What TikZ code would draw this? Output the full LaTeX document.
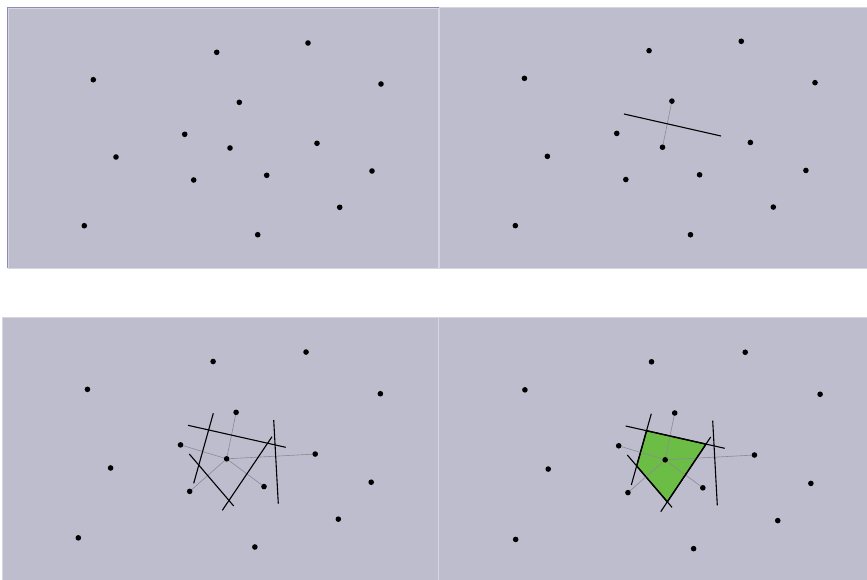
\documentclass[tikz,border=0pt]{standalone}
\usetikzlibrary{calc}

\definecolor{panelbg}{RGB}{190,189,206}
\definecolor{panelrim}{RGB}{214,214,226}
\definecolor{paneltop}{RGB}{140,140,184}
\definecolor{cellgreen}{RGB}{108,189,69}
\definecolor{raygray}{RGB}{138,138,152}

\tikzset{
  panel/.style={fill=panelbg, draw=panelrim, line width=1pt},
  site/.style={circle, fill=black, inner sep=0pt, minimum size=5.6pt},
  ray/.style={draw=raygray, line width=0.6pt},
  bisect/.style={draw=black, line width=1.1pt},
  cell/.style={fill=cellgreen, draw=black, line width=1.4pt, line join=miter},
}

% the fifteen sites, #1 = name prefix
\newcommand{\placesites}[1]{%
  \foreach \n/\px/\py in {1/93.3/79.7, 2/216.7/52.3, 3/308/43, 4/381/84,
      5/239.3/102.3, 6/184.7/134.3, 7/230/148, 8/317/143.3, 9/116/157,
      10/193.7/180, 11/266.7/175.3, 12/372/171, 13/339.7/207.3,
      14/84.3/225.7, 15/257.7/234.7}
    \node[site] (#1\n) at (\px,\py) {};
}

\begin{document}
\begin{tikzpicture}[x=1pt, y=-1pt]

\useasboundingbox (0,0) rectangle (867,579);

% Sites only
\draw[panel] (8.3,8.3) rectangle (438,268);
\draw[paneltop, line width=1pt] (7.5,268) -- (7.5,7.5) -- (438.5,7.5);
\begin{scope}
  \placesites{a}
\end{scope}

% One bisector
\draw[panel] (439.3,7) rectangle (868,268);
\begin{scope}[shift={(430.2,-2.1)}, xscale=1.01, yscale=1.009]
  \placesites{b}
\end{scope}

\draw[ray] (b7) -- (b5);
\draw[bisect] (624,114) -- (721,136);

% All bisectors around the centre site
\draw[panel] (2.7,317.3) rectangle (438,580);
\begin{scope}[shift={(-7.5,308.3)}, xscale=1.018, yscale=1.017]
  \placesites{c}
\end{scope}

\foreach \k in {5,6,8,10,11}
  \draw[ray] (c7) -- (c\k);

\draw[bisect] (188,425.3) -- (285.7,447.3);
\draw[bisect] (213.3,413.3) -- (193.7,483.3);
\draw[bisect] (189.3,454) -- (233.7,506);
\draw[bisect] (272,436.7) -- (222.3,510.3);
\draw[bisect] (273.7,420) -- (278.3,503.7);

% The Voronoi cell
\draw[panel] (438.5,317.3) rectangle (868,580);

\coordinate (d1a) at (625.7,426);   \coordinate (d1b) at (724.7,448.3);
\coordinate (d2a) at (651.3,413.7); \coordinate (d2b) at (631.3,485);
\coordinate (d3a) at (627.3,455);   \coordinate (d3b) at (672,507.3);
\coordinate (d4a) at (710.7,437);   \coordinate (d4b) at (660.7,511.7);
\coordinate (d5a) at (712.7,420.7); \coordinate (d5b) at (717.3,505.3);

\coordinate (v1) at (intersection of d1a--d1b and d2a--d2b);
\coordinate (v2) at (intersection of d1a--d1b and d4a--d4b);
\coordinate (v3) at (intersection of d4a--d4b and d3a--d3b);
\coordinate (v4) at (intersection of d3a--d3b and d2a--d2b);

\draw[cell] (v1) -- (v2) -- (v3) -- (v4) -- cycle;

\begin{scope}[shift={(429.2,308.2)}, xscale=1.026, yscale=1.0245]
  \placesites{d}
\end{scope}

\foreach \k in {5,6,8,10,11}
  \draw[ray] (d7) -- (d\k);

\foreach \k in {1,...,5}
  \draw[bisect] (d\k a) -- (d\k b);

\end{tikzpicture}
\end{document}
